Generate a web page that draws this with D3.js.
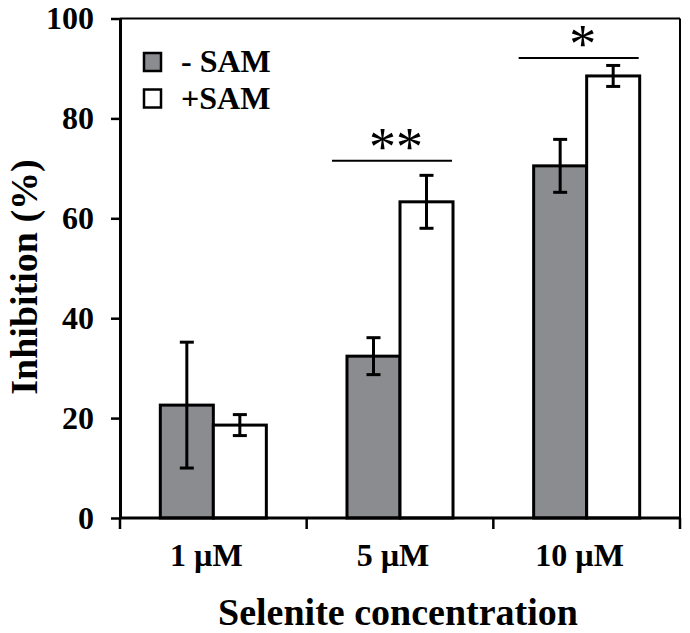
<!DOCTYPE html>
<html>
<head>
<meta charset="utf-8">
<script src="https://cdn.jsdelivr.net/npm/d3@7"></script>
<style>
  html, body { margin: 0; padding: 0; background: #fff; }
  svg { display: block; }
  text { font-family: "Liberation Serif", "Times New Roman", serif; fill: #000; }
</style>
</head>
<body>
<svg id="chart" width="690" height="633"></svg>
<script>
// ---- data ----
const categories = ["1 µM", "5 µM", "10 µM"];
const seriesNames = ["- SAM", "+SAM"];
const minusSAM = [22.6, 32.4, 70.5];
const minusSAMErr = [12.6, 3.7, 5.3];
const plusSAM = [18.6, 63.3, 88.5];
const plusSAMErr = [2.1, 5.3, 2.1];
const yTicks = [0, 20, 40, 60, 80, 100];
const sigLabels = ["", "**", "*"];
const sigLevels = [null, 71.5, 92.1];
const seriesFill = ["#8b8c90", "#ffffff"];

// ---- layout ----
const svg = d3.select("#chart");
const L = 120, R = 680, T = 18.5, B = 518;

const y = d3.scaleLinear().domain([0, 100]).range([B, T]);
const x0 = d3.scaleBand().domain(categories).range([L, R]).paddingInner(0.432).paddingOuter(0.216);
const x1 = d3.scaleBand().domain(seriesNames).range([0, x0.bandwidth()]);

const rows = categories.map((c, i) => ({
  cat: c,
  vals: [
    { s: seriesNames[0], v: minusSAM[i], e: minusSAMErr[i], fill: seriesFill[0] },
    { s: seriesNames[1], v: plusSAM[i], e: plusSAMErr[i], fill: seriesFill[1] }
  ]
}));

// frame (top & right)
svg.append("line").attr("x1", L).attr("x2", R).attr("y1", T).attr("y2", T)
  .attr("stroke", "#000").attr("stroke-width", 2);
svg.append("line").attr("x1", R).attr("x2", R).attr("y1", T).attr("y2", B)
  .attr("stroke", "#000").attr("stroke-width", 2);

// bars
const g = svg.selectAll("g.cat").data(rows).enter().append("g")
  .attr("class", "cat").attr("transform", d => `translate(${x0(d.cat)},0)`);
g.selectAll("rect").data(d => d.vals).enter().append("rect")
  .attr("x", d => x1(d.s)).attr("width", x1.bandwidth())
  .attr("y", d => y(d.v)).attr("height", d => B - y(d.v))
  .attr("fill", d => d.fill).attr("stroke", "#000").attr("stroke-width", 3);

// error bars
const capW = 14;
g.selectAll("g.err").data(d => d.vals).enter().append("g").attr("class", "err")
  .each(function(d) {
    const cx = x1(d.s) + x1.bandwidth() / 2;
    const gg = d3.select(this);
    gg.append("line").attr("x1", cx).attr("x2", cx).attr("y1", y(d.v + d.e)).attr("y2", y(d.v - d.e))
      .attr("stroke", "#000").attr("stroke-width", 3);
    [d.v + d.e, d.v - d.e].forEach(v => {
      gg.append("line").attr("x1", cx - capW / 2).attr("x2", cx + capW / 2).attr("y1", y(v)).attr("y2", y(v))
        .attr("stroke", "#000").attr("stroke-width", 3);
    });
  });

// y axis
const yAxis = svg.append("g").attr("transform", `translate(${L},0)`)
  .call(d3.axisLeft(y).tickValues(yTicks).tickSize(9).tickPadding(17).tickSizeOuter(0));
yAxis.select(".domain").attr("stroke-width", 3);
yAxis.selectAll(".tick line").attr("stroke-width", 2.5);
yAxis.selectAll(".tick text").attr("font-size", 32).attr("font-weight", "bold")
  .attr("font-family", "Liberation Serif, Times New Roman, serif").attr("fill", "#000");

// x axis (ticks at band boundaries)
const edges = categories.map(c => x0(c) - x0.step() * x0.paddingOuter()).concat([R]);
svg.append("line").attr("x1", L).attr("x2", R).attr("y1", B).attr("y2", B)
  .attr("stroke", "#000").attr("stroke-width", 3);
svg.selectAll("line.xt").data(edges).enter().append("line").attr("class", "xt")
  .attr("x1", d => d).attr("x2", d => d).attr("y1", B).attr("y2", B + 11)
  .attr("stroke", "#000").attr("stroke-width", 2.5);
svg.selectAll("text.xl").data(categories).enter().append("text").attr("class", "xl")
  .attr("x", d => x0(d) + x0.bandwidth() / 2 - 7).attr("y", 566)
  .attr("text-anchor", "middle").attr("font-size", 32).attr("font-weight", "bold").text(d => d);

// axis titles
svg.append("text").attr("x", 398).attr("y", 625).attr("text-anchor", "middle")
  .attr("font-size", 38).attr("font-weight", "bold").text("Selenite concentration");
svg.append("text").attr("transform", "translate(37,277) rotate(-90)").attr("text-anchor", "middle")
  .attr("font-size", 38).attr("font-weight", "bold").text("Inhibition (%)");

// significance
categories.forEach((c, i) => {
  if (sigLevels[i] == null) return;
  const xs = x0(c) - 15, xe = x0(c) + x0.bandwidth() - 1;
  svg.append("line").attr("x1", xs).attr("x2", xe).attr("y1", y(sigLevels[i])).attr("y2", y(sigLevels[i]))
    .attr("stroke", "#000").attr("stroke-width", 2);
  svg.append("text").attr("x", (xs + xe) / 2 + 4).attr("y", y(sigLevels[i]) + 4)
    .attr("text-anchor", "middle").attr("font-size", 54).text(sigLabels[i]);
});

// legend
const leg = svg.selectAll("g.leg").data(seriesNames).enter().append("g").attr("class", "leg")
  .attr("transform", (d, i) => `translate(0,${i * 36.5})`);
leg.append("rect").attr("x", 144).attr("y", 53).attr("width", 17).attr("height", 18)
  .attr("fill", (d, i) => seriesFill[i]).attr("stroke", "#000").attr("stroke-width", 2.5);
leg.append("text").attr("x", 181).attr("y", 72).attr("font-size", 32).attr("font-weight", "bold")
  .attr("xml:space", "preserve").text(d => d);
</script>
</body>
</html>
